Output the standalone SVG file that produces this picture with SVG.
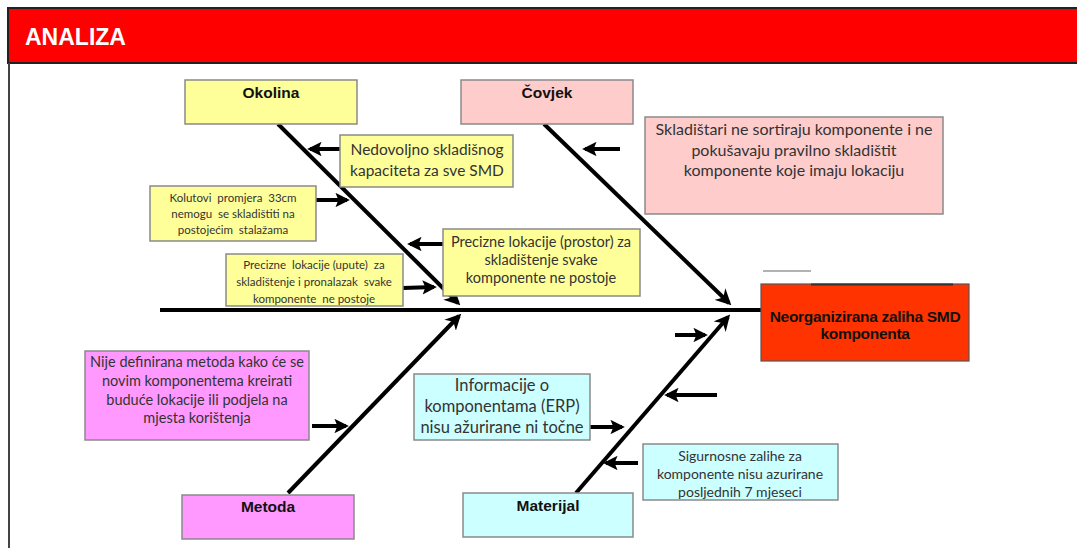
<svg xmlns="http://www.w3.org/2000/svg" width="1077" height="548" viewBox="0 0 1077 548">
<defs>
<style>
.box{stroke:#8a8a8a;stroke-width:1.5}
.yl{fill:#FFFF99}.pk{fill:#FFCCCC}.mg{fill:#FF99FF}.cy{fill:#CCFFFF}
.lbl{font-family:"Liberation Sans",Arial,sans-serif;font-weight:bold;font-size:15.5px;fill:#111;text-anchor:middle}
.t{font-family:Lato,"Open Sans",sans-serif;fill:#333;text-anchor:middle;white-space:pre}
.bone{stroke:#000;stroke-width:4;fill:none}
.sa{stroke:#000;stroke-width:4;fill:none}
</style>
<marker id="ah" viewBox="0 0 10 10" refX="8" refY="5" markerWidth="4" markerHeight="4" orient="auto" markerUnits="strokeWidth">
<path d="M0,0 L10,5 L0,10 L3,5 z" fill="#000"/>
</marker>
<marker id="sh" viewBox="0 0 10 10" refX="8" refY="5" markerWidth="3.6" markerHeight="3.6" orient="auto" markerUnits="strokeWidth">
<path d="M0,0 L10,5 L0,10 L2,5 z" fill="#000"/>
</marker>
</defs>
<rect width="1077" height="548" fill="#fff"/>
<g id="header">
<rect x="8" y="8" width="1075" height="55" fill="#FF0000" stroke="#222" stroke-width="2"/>
<line x1="9" y1="63" x2="9" y2="548" stroke="#444" stroke-width="2"/>
<text x="25" y="45" font-family="Liberation Sans,Arial,sans-serif" font-weight="bold" font-size="23" fill="#fff">ANALIZA</text>
</g>
<g id="connectors">
<line class="bone" x1="160" y1="310" x2="762" y2="310"/>
<line class="bone" x1="278" y1="124" x2="458" y2="303" marker-end="url(#ah)"/>
<line class="bone" x1="544" y1="124" x2="729" y2="303" marker-end="url(#ah)"/>
<line class="bone" x1="288" y1="493" x2="459" y2="316" marker-end="url(#ah)"/>
<line class="bone" x1="576" y1="493" x2="728" y2="317" marker-end="url(#ah)"/>
<line class="sa" x1="340" y1="149" x2="310" y2="149" marker-end="url(#sh)"/>
<line class="sa" x1="316" y1="200" x2="347" y2="200" marker-end="url(#sh)"/>
<line class="sa" x1="443" y1="244" x2="410" y2="244" marker-end="url(#sh)"/>
<line class="sa" x1="403" y1="288" x2="434" y2="287" marker-end="url(#sh)"/>
<line class="sa" x1="620" y1="149" x2="585" y2="149" marker-end="url(#sh)"/>
<line class="sa" x1="312" y1="426" x2="346" y2="426" marker-end="url(#sh)"/>
<line class="sa" x1="675" y1="335" x2="705" y2="335" marker-end="url(#sh)"/>
<line class="sa" x1="717" y1="395" x2="667" y2="395" marker-end="url(#sh)"/>
<line class="sa" x1="590" y1="427" x2="622" y2="427" marker-end="url(#sh)"/>
<line class="sa" x1="638" y1="463" x2="606" y2="463" marker-end="url(#sh)"/>
</g>
<g id="okolina"><rect class="box yl" x="185" y="80" width="172" height="44"/><text class="lbl" x="271" y="98">Okolina</text></g>
<g id="covjek"><rect class="box pk" x="461" y="80" width="172" height="44"/><text class="lbl" x="547" y="98">Čovjek</text></g>
<g id="metoda"><rect class="box mg" x="182" y="495" width="172" height="44"/><text class="lbl" x="268" y="512">Metoda</text></g>
<g id="materijal"><rect class="box cy" x="463" y="493" width="170" height="44"/><text class="lbl" x="548" y="511">Materijal</text></g>
<g id="glava">
<line x1="763" y1="271" x2="811" y2="271" stroke="#999" stroke-width="1.5"/>
<rect x="761" y="284" width="208" height="77" fill="#FF3300" stroke="#555" stroke-width="1.2"/>
<line x1="811" y1="284.5" x2="953" y2="284.5" stroke="#333" stroke-width="2"/>
<text class="lbl" x="865" y="322" style="font-size:15.5px;letter-spacing:-0.3px">Neorganizirana zaliha SMD</text>
<text class="lbl" x="865" y="339" style="font-size:15.5px;letter-spacing:-0.3px">komponenta</text>
</g>
<g id="nedovoljno"><rect class="box yl" x="340" y="135" width="173" height="52"/>
<text class="t" font-size="15.5" x="427" y="155">Nedovoljno skladišnog</text>
<text class="t" font-size="15.5" x="427" y="176">kapaciteta za sve SMD</text></g>
<g id="kolutovi"><rect class="box yl" x="150" y="186" width="166" height="55"/>
<text class="t" font-size="11.5" x="233" y="202">Kolutovi  promjera  33cm</text>
<text class="t" font-size="11.5" x="233" y="218">nemogu  se skladištiti na</text>
<text class="t" font-size="11.5" x="233" y="234">postojećim  stalažama</text></g>
<g id="prostor"><rect class="box yl" x="443" y="229" width="197" height="67"/>
<text class="t" font-size="14.5" x="541" y="247">Precizne lokacije (prostor) za</text>
<text class="t" font-size="14.5" x="541" y="265">skladištenje svake</text>
<text class="t" font-size="14.5" x="541" y="283">komponente ne postoje</text></g>
<g id="upute"><rect class="box yl" x="226" y="254" width="177" height="52"/>
<text class="t" font-size="11.5" x="314" y="269">Precizne  lokacije (upute)  za</text>
<text class="t" font-size="11.5" x="314" y="286">skladištenje i pronalazak  svake</text>
<text class="t" font-size="11.5" x="314" y="303">komponente  ne postoje</text></g>
<g id="skladistari"><rect class="box pk" x="645" y="117" width="298" height="97"/>
<text class="t" font-size="16" x="794" y="135">Skladištari ne sortiraju komponente i ne</text>
<text class="t" font-size="16" x="794" y="156">pokušavaju pravilno skladištit</text>
<text class="t" font-size="16" x="794" y="176">komponente koje imaju lokaciju</text></g>
<g id="nije"><rect class="box mg" x="85" y="351" width="224" height="89"/>
<text class="t" font-size="14.5" x="197" y="367">Nije definirana metoda kako će se</text>
<text class="t" font-size="14.5" x="197" y="386">novim komponentema kreirati</text>
<text class="t" font-size="14.5" x="197" y="405">buduće lokacije ili podjela na</text>
<text class="t" font-size="14.5" x="197" y="423">mjesta korištenja</text></g>
<g id="informacije"><rect class="box cy" x="414" y="374" width="176" height="66"/>
<text class="t" font-size="16.5" x="502" y="391">Informacije o</text>
<text class="t" font-size="16.5" x="502" y="412">komponentama (ERP)</text>
<text class="t" font-size="16.5" x="502" y="433">nisu ažurirane ni točne</text></g>
<g id="sigurnosne"><rect class="box cy" x="643" y="444" width="195" height="56"/>
<text class="t" font-size="14" x="740" y="461">Sigurnosne zalihe za</text>
<text class="t" font-size="14" x="740" y="479">komponente nisu azurirane</text>
<text class="t" font-size="14" x="740" y="497">posljednih 7 mjeseci</text></g>
</svg>
